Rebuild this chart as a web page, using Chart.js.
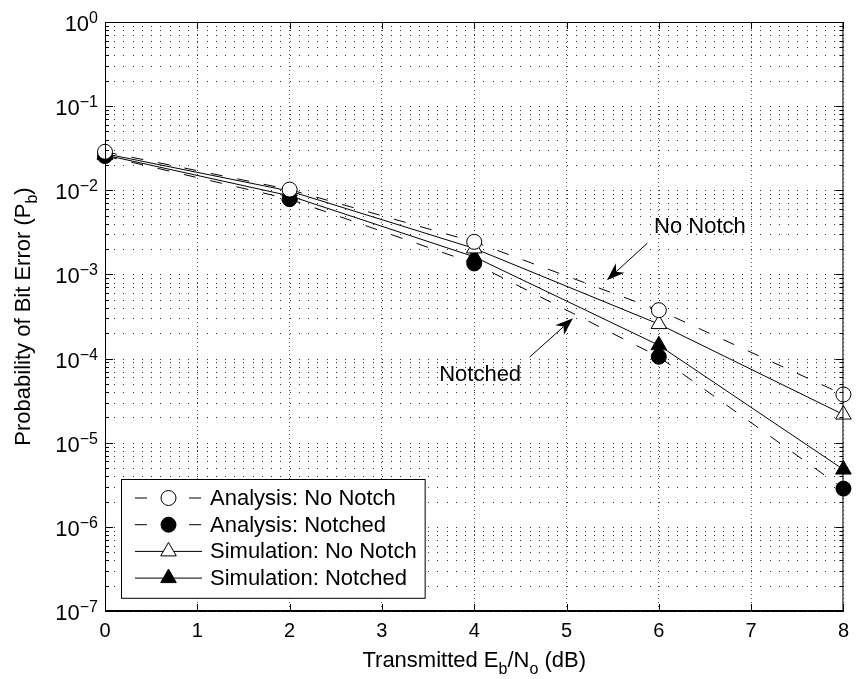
<!DOCTYPE html>
<html lang="en">
<head>
<meta charset="UTF-8">
<title>Probability of Bit Error vs Eb/No</title>
<script src="https://cdn.jsdelivr.net/npm/chart.js"></script>
<style>
    body { margin: 0; background: #fff; }
</style>
</head>
<body>
<canvas id="berChart" width="857" height="679"></canvas>
<script>
// Eb/No points (dB) and bit error probabilities
const ebno = [0, 2, 4, 6, 8];
const analysisNoNotch = [0.0287, 0.0102, 0.00244, 0.000376, 0.0000374];
const analysisNotched = [0.0255, 0.00785, 0.00135, 0.000105, 0.00000285];
const simNoNotch = [0.0272, 0.0098, 0.00204, 0.000257, 0.0000216];
const simNotched = [0.0262, 0.0086, 0.00162, 0.000144, 0.0000048];

const xTicks = [0, 1, 2, 3, 4, 5, 6, 7, 8];
const yDecades = [-7, -6, -5, -4, -3, -2, -1, 0];

// text callouts: label position and arrow (tail -> tip), in data units
const callouts = [
    { text: 'No Notch', at: [6.445, 3.65e-3], tail: [5.877, 2.36e-3], tip: [5.437, 8.55e-4] },
    { text: 'Notched', at: [4.064, 6.35e-5], tail: [4.60, 1.04e-4], tip: [5.07, 3.02e-4] }
];

const FONT = "'Liberation Sans', Arial, Helvetica, sans-serif";
const DASH = [12, 15];

function pts(vals) {
    return ebno.map((x, i) => ({ x: x, y: vals[i] }));
}

function series(label, vals, style, filled, dashed) {
    const r = style === 'triangle' ? 9 : 7.5;
    return {
        label: label,
        data: pts(vals),
        borderColor: '#000',
        borderWidth: 1,
        borderDash: dashed ? DASH : [],
        pointStyle: style,
        pointRadius: r,
        pointHoverRadius: r,
        pointBorderColor: '#000',
        pointBorderWidth: 1,
        pointBackgroundColor: filled ? '#000' : '#fff',
        fill: false,
        tension: 0,
        clip: false
    };
}

// draw text pieces with subscripts, centred on cx
function drawRuns(ctx, runs, cx, baseY, size) {
    const subSize = Math.round(size * 0.72);
    let total = 0;
    runs.forEach(r => {
        ctx.font = (r.sub ? subSize : size) + 'px ' + FONT;
        r.w = ctx.measureText(r.t).width;
        total += r.w;
    });
    let x = cx - total / 2;
    ctx.textAlign = 'left';
    ctx.textBaseline = 'alphabetic';
    runs.forEach(r => {
        ctx.font = (r.sub ? subSize : size) + 'px ' + FONT;
        ctx.fillText(r.t, x, baseY + (r.sub ? 7 : 0));
        x += r.w;
    });
}

function arrow(ctx, x1, y1, x2, y2) {
    const ang = Math.atan2(y2 - y1, x2 - x1);
    const len = 18, half = 6.5;
    const cos = Math.cos(ang), sin = Math.sin(ang);
    ctx.beginPath();
    ctx.moveTo(x1, y1);
    ctx.lineTo(x2 - cos * len * 0.7, y2 - sin * len * 0.7);
    ctx.stroke();
    const bx = x2 - cos * len, by = y2 - sin * len;
    ctx.beginPath();
    ctx.moveTo(x2, y2);
    ctx.lineTo(bx - sin * half, by + cos * half);
    ctx.lineTo(x2 - cos * len * 0.7, y2 - sin * len * 0.7);
    ctx.lineTo(bx + sin * half, by - cos * half);
    ctx.closePath();
    ctx.fill();
}

const frame = {
    id: 'frame',
    beforeDatasetsDraw(chart) {
        const { ctx, scales: { x, y } } = chart;
        ctx.save();
        ctx.fillStyle = '#333';
        // dotted minor grid: one dot per 0.1 dB on every log tick row
        yDecades.forEach(k => {
            for (let m = 1; m <= 9; m++) {
                const v = m * Math.pow(10, k);
                if (v > 1) break;
                const py = Math.round(y.getPixelForValue(v));
                for (let j = 1; j < 80; j++) {
                    ctx.fillRect(Math.round(x.getPixelForValue(j / 10)), py, 1, 1);
                }
            }
        });
        ctx.restore();
    },
    afterDraw(chart) {
        const { ctx, chartArea: a, scales: { x, y } } = chart;
        ctx.save();
        ctx.strokeStyle = '#000';
        ctx.fillStyle = '#000';
        ctx.lineWidth = 1;
        ctx.strokeRect(a.left + 0.5, a.top + 0.5, a.right - a.left - 1, a.bottom - a.top - 1);

        const seg = (x1, y1, x2, y2) => {
            ctx.beginPath(); ctx.moveTo(x1, y1); ctx.lineTo(x2, y2); ctx.stroke();
        };
        // inward ticks
        xTicks.forEach(t => {
            const px = Math.round(x.getPixelForValue(t)) + 0.5;
            seg(px, a.bottom, px, a.bottom - 7);
            seg(px, a.top, px, a.top + 7);
        });
        yDecades.forEach(k => {
            for (let m = 1; m <= 9; m++) {
                const v = m * Math.pow(10, k);
                if (v > 1) break;
                const py = Math.round(y.getPixelForValue(v)) + 0.5;
                const len = m === 1 ? 8 : 4;
                seg(a.left, py, a.left + len, py);
                seg(a.right, py, a.right - len, py);
            }
        });

        // y tick labels 10^k
        yDecades.forEach(k => {
            const py = y.getPixelForValue(Math.pow(10, k));
            const ex = k === 0 ? '0' : '\u2212' + Math.abs(k);
            ctx.textBaseline = 'alphabetic';
            ctx.textAlign = 'right';
            ctx.font = '16px ' + FONT;
            const ew = ctx.measureText(ex).width;
            ctx.fillText(ex, a.left - 7, py + 1);
            ctx.font = '22px ' + FONT;
            ctx.fillText('10', a.left - 7 - ew, py + 9);
        });

        // axis titles
        drawRuns(ctx, [{ t: 'Transmitted E' }, { t: 'b', sub: true }, { t: '/N' }, { t: 'o', sub: true }, { t: ' (dB)' }],
            (a.left + a.right) / 2, 667, 22);
        ctx.save();
        ctx.translate(30, (a.top + a.bottom) / 2);
        ctx.rotate(-Math.PI / 2);
        drawRuns(ctx, [{ t: 'Probability of Bit Error (P' }, { t: 'b', sub: true }, { t: ')' }], 0, 0, 22);
        ctx.restore();

        // callouts
        callouts.forEach(c => {
            ctx.font = '22px ' + FONT;
            ctx.textAlign = 'center';
            ctx.textBaseline = 'middle';
            ctx.fillText(c.text, x.getPixelForValue(c.at[0]), y.getPixelForValue(c.at[1]));
            arrow(ctx, x.getPixelForValue(c.tail[0]), y.getPixelForValue(c.tail[1]),
                x.getPixelForValue(c.tip[0]), y.getPixelForValue(c.tip[1]));
        });

        // legend box
        const sets = chart.data.datasets;
        const lx = 121, ly = 479, rowH = 26.7;
        ctx.font = '22px ' + FONT;
        const tw = Math.max(...sets.map(d => ctx.measureText(d.label).width));
        const lw = 210 - lx + tw + 8, lh = rowH * sets.length + 12;
        ctx.fillStyle = '#fff';
        ctx.fillRect(lx, ly, lw, lh);
        ctx.strokeRect(lx + 0.5, ly + 0.5, lw, lh);
        sets.forEach((d, i) => {
            const ry = ly + 19 + i * rowH;
            ctx.setLineDash(d.borderDash);
            seg(135, ry, 202, ry);
            ctx.setLineDash([]);
            ctx.fillStyle = d.pointBackgroundColor;
            ctx.strokeStyle = '#000';
            Chart.helpers.drawPoint(ctx, { pointStyle: d.pointStyle, radius: d.pointRadius, rotation: 0, borderWidth: 1 }, 168.5, ry);
            ctx.fillStyle = '#000';
            ctx.font = '22px ' + FONT;
            ctx.textAlign = 'left';
            ctx.textBaseline = 'middle';
            ctx.fillText(d.label, 210, ry + 1);
        });
        ctx.restore();
    }
};

new Chart(document.getElementById('berChart'), {
    type: 'line',
    data: {
        datasets: [
            series('Analysis: No Notch', analysisNoNotch, 'circle', false, true),
            series('Analysis: Notched', analysisNotched, 'circle', true, true),
            series('Simulation: No Notch', simNoNotch, 'triangle', false, false),
            series('Simulation: Notched', simNotched, 'triangle', true, false)
        ]
    },
    options: {
        responsive: false,
        animation: false,
        events: [],
        layout: { padding: { left: 0, top: 22, right: 6, bottom: 0 } },
        plugins: { legend: { display: false }, tooltip: { enabled: false } },
        scales: {
            x: {
                type: 'linear',
                min: 0,
                max: 8,
                afterFit: s => { s.height = 68; },
                afterBuildTicks: s => { s.ticks = xTicks.map(v => ({ value: v })); },
                ticks: { color: '#000', font: { family: FONT, size: 20 }, padding: 8, maxRotation: 0 },
                grid: { color: '#555', lineWidth: 1, drawTicks: false },
                border: { display: true, color: '#000', dash: [1, 3] }
            },
            y: {
                type: 'logarithmic',
                min: 1e-7,
                max: 1,
                afterFit: s => { s.width = 105; },
                ticks: { display: false },
                grid: { display: false },
                border: { display: true, color: '#000' }
            }
        }
    },
    plugins: [frame]
});
</script>
</body>
</html>
